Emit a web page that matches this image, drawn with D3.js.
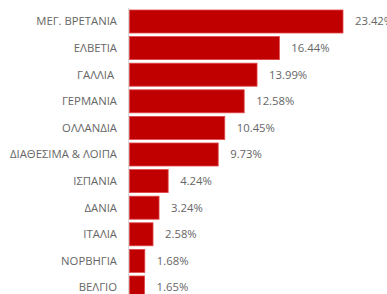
<!DOCTYPE html>
<html><head><meta charset="utf-8">
<script src="https://cdn.jsdelivr.net/npm/d3@7"></script>
<style>body{margin:0;background:#fff;overflow:hidden}text{white-space:pre}</style>
</head><body><svg id="c" width="387" height="294"></svg>
<script>
const categories = ["ΜΕΓ. ΒΡΕΤΑΝΙΑ","ΕΛΒΕΤΙΑ","ΓΑΛΛΙΑ ","ΓΕΡΜΑΝΙΑ","ΟΛΛΑΝΔΙΑ","ΔΙΑΘΕΣΙΜΑ & ΛΟΙΠΑ","ΙΣΠΑΝΙΑ","ΔΑΝΙΑ","ΙΤΑΛΙΑ","ΝΟΡΒΗΓΙΑ","ΒΕΛΓΙΟ"];
const values = [23.42,16.44,13.99,12.58,10.45,9.73,4.24,3.24,2.58,1.68,1.65];
const labels = ["23.42%","16.44%","13.99%","12.58%","10.45%","9.73%","4.24%","3.24%","2.58%","1.68%","1.65%"];

const svg = d3.select("#c");
const x0 = 129.5;
const x = d3.scaleLinear().domain([0, 23.42]).range([x0, 343]);
const y = d3.scaleBand().domain(categories).range([8.2, 8.2 + 11*26.6]).paddingInner(0.135).paddingOuter(0.0675);
const font = "'Open Sans', sans-serif";

svg.append("g").selectAll("rect").data(values).join("rect")
  .attr("x", x(0)).attr("y", (d,i)=>y(categories[i]))
  .attr("width", d=>x(d)-x(0)).attr("height", y.bandwidth())
  .attr("fill", "#C00000").attr("stroke", "#E04848").attr("stroke-width", 0.8);

svg.append("line").attr("x1", 128.5).attr("x2", 128.5).attr("y1", 8).attr("y2", 294)
  .attr("stroke", "#D9D9D9").attr("stroke-width", 1);

svg.append("g").selectAll("text").data(categories).join("text")
  .attr("x", 117).attr("y", d=>y(d)+y.bandwidth()/2).attr("dy", "0.35em")
  .attr("text-anchor", "end").attr("font-family", font).attr("font-size", 11.3)
  .attr("fill", "#666666").text(d=>d);

svg.append("g").selectAll("text").data(values).join("text")
  .attr("x", d=>x(d)+12).attr("y", (d,i)=>y(categories[i])+y.bandwidth()/2).attr("dy", "0.35em")
  .attr("font-family", font).attr("font-size", 11.3)
  .attr("fill", "#666666").text((d,i)=>labels[i]);
</script></body></html>
